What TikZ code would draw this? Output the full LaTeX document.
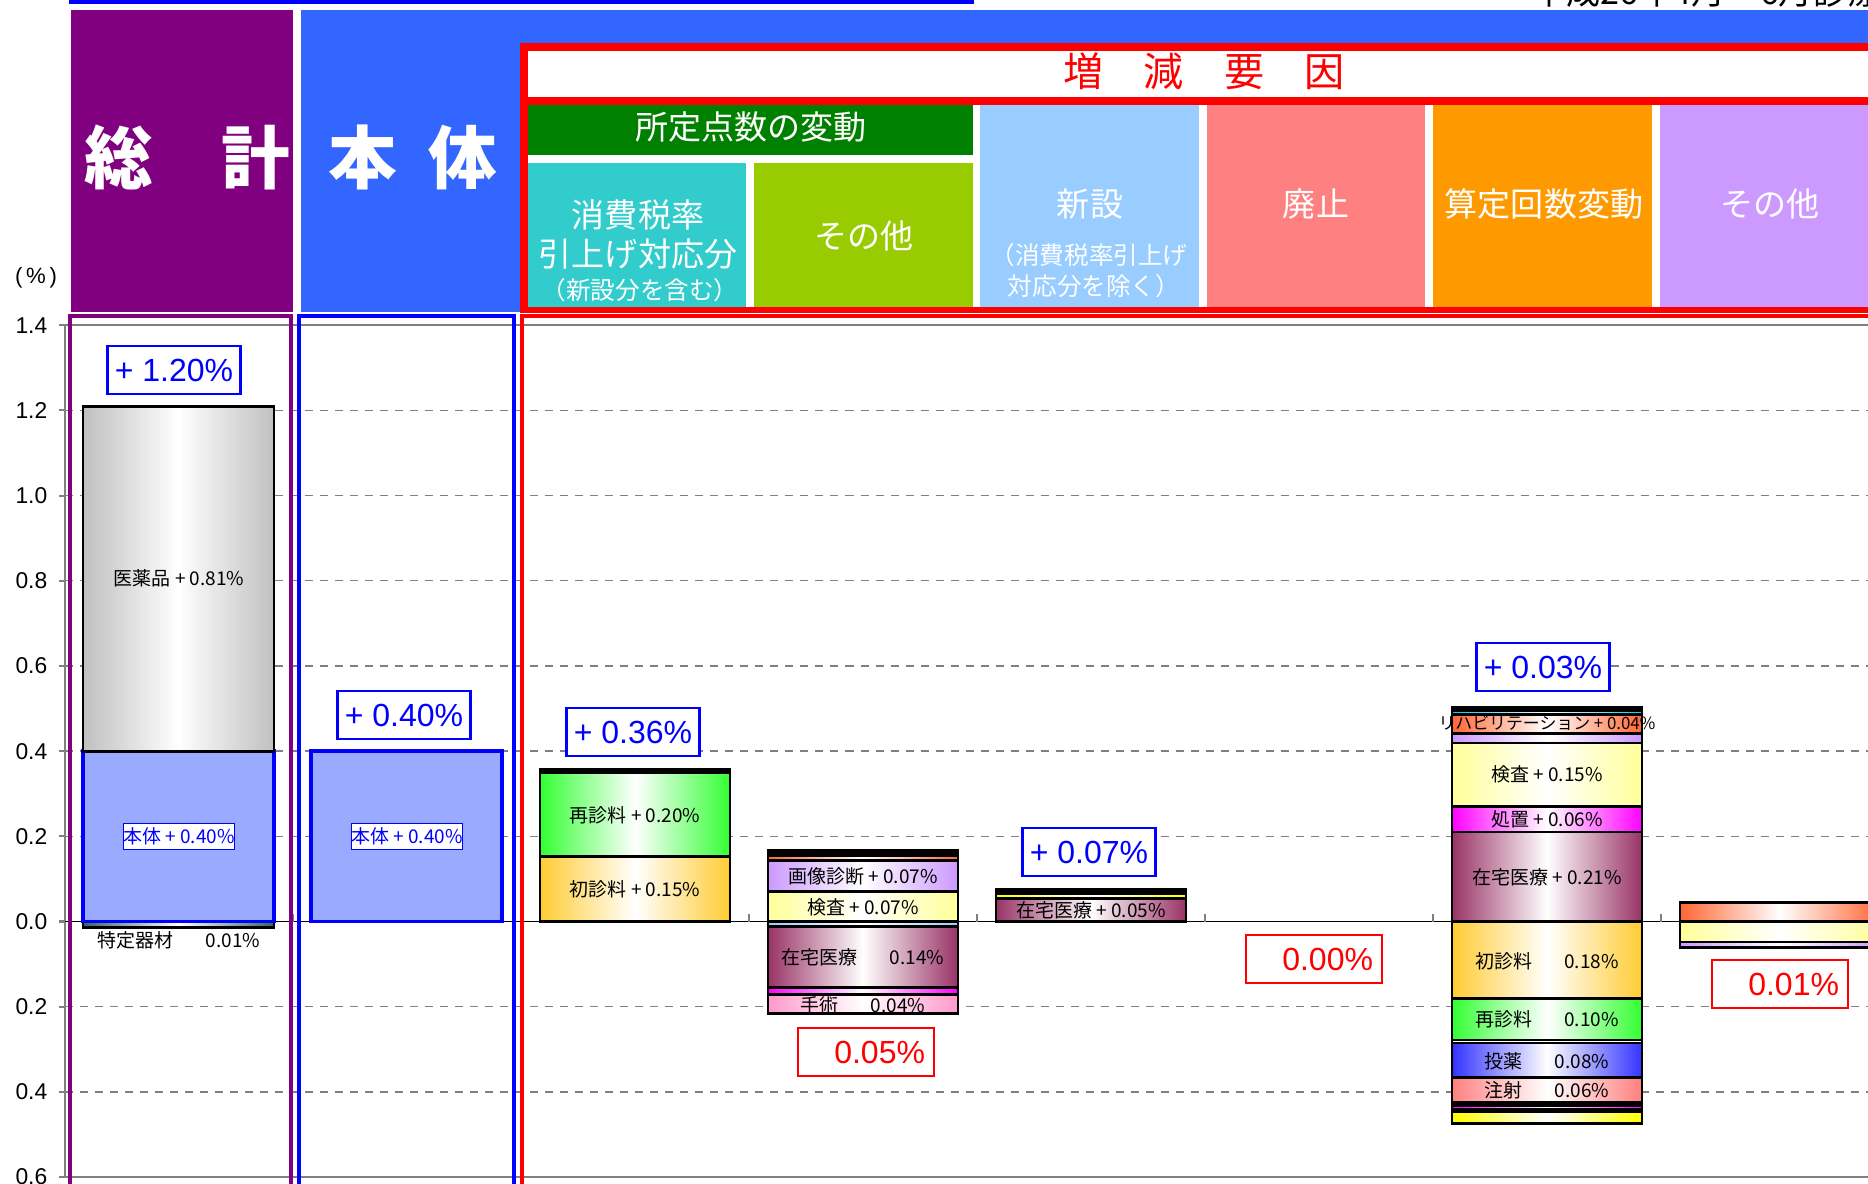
\documentclass[tikz,border=0pt]{standalone}
\usepackage{fontspec}
\setmainfont{Liberation Sans}
\newfontfamily\cjk{Noto Sans CJK JP}

% Changing colors
\definecolor{r0g0b255}{rgb}{0.000000,0.000000,1.000000}
\definecolor{r128g0b128}{rgb}{0.501961,0.000000,0.501961}
\definecolor{r51g102b255}{rgb}{0.200000,0.400000,1.000000}
\definecolor{r255g0b0}{rgb}{1.000000,0.000000,0.000000}
\definecolor{r0g128b0}{rgb}{0.000000,0.501961,0.000000}
\definecolor{r51g204b204}{rgb}{0.200000,0.800000,0.800000}
\definecolor{r153g204b0}{rgb}{0.600000,0.800000,0.000000}
\definecolor{r153g204b255}{rgb}{0.600000,0.800000,1.000000}
\definecolor{r255g128b128}{rgb}{1.000000,0.501961,0.501961}
\definecolor{r255g153b0}{rgb}{1.000000,0.600000,0.000000}
\definecolor{r204g153b255}{rgb}{0.800000,0.600000,1.000000}
\definecolor{r128g128b128}{rgb}{0.501961,0.501961,0.501961}
\definecolor{r153g170b255}{rgb}{0.600000,0.666667,1.000000}
\definecolor{r192g192b192}{rgb}{0.752941,0.752941,0.752941}
\definecolor{r51g102b102}{rgb}{0.200000,0.400000,0.400000}
\definecolor{r255g204b51}{rgb}{1.000000,0.800000,0.200000}
\definecolor{r51g255b51}{rgb}{0.200000,1.000000,0.200000}
\definecolor{r102g153b204}{rgb}{0.400000,0.600000,0.800000}
\definecolor{r255g255b153}{rgb}{1.000000,1.000000,0.600000}
\definecolor{r255g102b51}{rgb}{1.000000,0.400000,0.200000}
\definecolor{r255g255b0}{rgb}{1.000000,1.000000,0.000000}
\definecolor{r153g51b102}{rgb}{0.600000,0.200000,0.400000}
\definecolor{r255g0b255}{rgb}{1.000000,0.000000,1.000000}
\definecolor{r255g153b204}{rgb}{1.000000,0.600000,0.800000}
\definecolor{r51g51b255}{rgb}{0.200000,0.200000,1.000000}
\definecolor{r102g102b0}{rgb}{0.400000,0.400000,0.000000}
\definecolor{r0g204b255}{rgb}{0.000000,0.800000,1.000000}

\tikzset{
  seg/.style={draw=black, line width=0.8pt, left color=#1, right color=#1, middle color=white},
  hontaibar/.style={draw=r0g0b255, line width=1.1pt, fill=r153g170b255},
  gridline/.style={draw=r128g128b128, line width=0.4pt, dash pattern=on 0.08cm off 0.07cm},
  frameline/.style={draw=r128g128b128, line width=0.6pt},
  headtext/.style={text=white, font=\cjk\fontsize{9.4}{11}\selectfont, inner sep=0},
  headsmall/.style={text=white, font=\cjk\fontsize{7}{8}\selectfont, inner sep=0},
  barlabel/.style={font=\cjk\fontsize{5.4}{6}\selectfont, inner sep=0},
  hontailabel/.style={barlabel, draw=r0g0b255, line width=0.3pt, fill=white, text=r0g0b255, minimum width=1.07cm, minimum height=0.26cm},
  totbox/.style={draw=r0g0b255, line width=0.6pt, fill=white, text=r0g0b255, font=\fontsize{9.1}{10}\selectfont, minimum width=1.33cm, minimum height=0.48cm, inner sep=0},
  decbox/.style={draw=r255g0b0, line width=0.6pt, fill=white, text=r255g0b0, font=\fontsize{9.1}{10}\selectfont, text width=1.18cm, align=right, inner xsep=0.09cm, inner ysep=0, minimum height=0.48cm},
  axislabel/.style={anchor=east, font=\fontsize{6.5}{7}\selectfont, inner sep=0}
}

\begin{document}
\begin{tikzpicture}[x=0.01cm,y=-0.01cm]
\useasboundingbox (0,0) rectangle (1868,1184);
\clip (0,0) rectangle (1868,1184);

% Drawing top line and period
\fill[r0g0b255] (69,0) rectangle (974,3.5);
\node[anchor=base west, font=\cjk\fontsize{9.7}{10}\selectfont, inner sep=0] (period) at (1532,4) {平成26年4月～6月診療分};

% Filling header cells
\fill[r128g0b128] (71,10) rectangle (293,312);
\fill[r51g102b255] (301,10) rectangle (1868,312);
\fill[white] (521,43) rectangle (1868,313);
\fill[r255g0b0] (520,43) rectangle (1868,51);
\fill[r255g0b0] (520,97) rectangle (1868,105);
\fill[r255g0b0] (520,307) rectangle (1868,313);
\fill[r255g0b0] (520,43) rectangle (528,313);
\fill[r0g128b0] (528,105) rectangle (973,155);
\fill[r51g204b204] (528,163) rectangle (746,307);
\fill[r153g204b0] (754,163) rectangle (973,307);
\fill[r153g204b255] (980,105) rectangle (1199,307);
\fill[r255g128b128] (1207,105) rectangle (1425,307);
\fill[r255g153b0] (1433,105) rectangle (1652,307);
\fill[r204g153b255] (1660,105) rectangle (1868,307);

% Header texts
\node[text=white, font=\cjk\bfseries\fontsize{19.5}{20}\selectfont, inner sep=0] (sokei) at (187,157) {総　計};
\node[text=white, font=\cjk\bfseries\fontsize{19.5}{20}\selectfont, inner sep=0] (hontai) at (413,157) {本\hspace{0.45em}体};
\node[text=r255g0b0, font=\cjk\fontsize{11.4}{12}\selectfont, inner sep=0] (zogen) at (1204,71) {増　減　要　因};
\node[headtext] (shotei) at (751,127) {所定点数の変動};
\node[headtext] (shohizeiA) at (638,215) {消費税率};
\node[headtext] (shohizeiB) at (638,254) {引上げ対応分};
\node[headsmall] (shohizeiC) at (640,290) {（新設分を含む）};
\node[headtext] (sonotaA) at (864,236) {その他};
\node[headtext] (shinsetsuA) at (1090,204) {新設};
\node[headsmall] (shinsetsuB) at (1089,255) {（消費税率引上げ};
\node[headsmall] (shinsetsuC) at (1094,286) {対応分を除く）};
\node[headtext] (haishi) at (1316,204) {廃止};
\node[headtext] (santei) at (1544,204) {算定回数変動};
\node[headtext] (sonotaB) at (1770,204) {その他};
\node[font=\fontsize{6.3}{7}\selectfont, inner sep=0] (pct) at (36,278) {(\,\%\,)};

\begin{scope}[yshift=-9.21cm, y=4.257cm]
% Drawing grid and axis
\foreach \v in {1.2,1.0,0.8,0.6,0.4,0.2,-0.2,-0.4}
  \draw[gridline] (65,\v) -- (1868,\v);
\draw[frameline] (1868,1.4) -- (65,1.4) -- (65,-0.6) -- (1868,-0.6);
\foreach \v/\t [count=\i] in {1.4/1.4,1.2/1.2,1.0/1.0,0.8/0.8,0.6/0.6,0.4/0.4,0.2/0.2,0.0/0.0,-0.2/0.2,-0.4/0.4,-0.6/0.6}
  {\draw[frameline] (59,\v) -- (65,\v);
   \node[axislabel] (ylab\i) at (48,\v) {\t};}
\draw[black, line width=0.4pt] (65,0) -- (1868,0);
\foreach \x in {293,521,749,977,1205,1433,1661}
  \draw[r128g128b128, line width=0.4pt] (\x,0) -- (\x,0.018);

% Filling bar 総計
\draw[seg=r51g102b102] (83,-0.014) rectangle (274,0);
\draw[hontaibar] (83,0) rectangle (274,0.40);
\draw[seg=r192g192b192] (83,0.40) rectangle (274,1.21);
\node[barlabel] (iyakuhin) at (179,0.805) {医薬品 + 0.81\%};
\node[hontailabel] (hontaiA) at (179,0.20) {本体 + 0.40\%};
\node[barlabel] (tokutei) at (179,-0.045) {特定器材\hspace{1.7em}0.01\%};

% Filling bar 本体
\draw[hontaibar] (311,0) rectangle (502,0.40);
\node[hontailabel] (hontaiB) at (407,0.20) {本体 + 0.40\%};

% Filling bar 消費税率引上げ対応分
\draw[seg=r255g204b51] (540,0) rectangle (730,0.152);
\draw[seg=r51g255b51] (540,0.152) rectangle (730,0.349);
\draw[seg=r102g153b204] (540,0.349) rectangle (730,0.357);
\node[barlabel] (saishinA) at (635,0.25) {再診料 + 0.20\%};
\node[barlabel] (shoshinA) at (635,0.075) {初診料 + 0.15\%};

% Filling bar その他 (所定点数)
\draw[seg=r255g255b153] (768,0) rectangle (958,0.071);
\draw[seg=r204g153b255] (768,0.071) rectangle (958,0.144);
\draw[seg=r255g102b51] (768,0.144) rectangle (958,0.156);
\draw[seg=r255g255b0] (768,0.159) rectangle (958,0.167);
\draw[seg=r153g204b255] (768,-0.011) rectangle (958,0);
\draw[seg=r153g51b102] (768,-0.155) rectangle (958,-0.011);
\draw[seg=r255g0b255] (768,-0.172) rectangle (958,-0.155);
\draw[seg=r255g153b204] (768,-0.215) rectangle (958,-0.172);
\node[barlabel] (gazo) at (863,0.107) {画像診断 + 0.07\%};
\node[barlabel] (kensaA) at (863,0.033) {検査 + 0.07\%};
\node[barlabel] (zaitakuA) at (863,-0.084) {在宅医療\hspace{1.7em}0.14\%};
\node[barlabel] (shujutsu) at (863,-0.197) {手術\hspace{1.7em}0.04\%};

% Filling bar 新設
\draw[seg=r153g51b102] (996,0) rectangle (1186,0.055);
\draw[seg=r255g255b0] (996,0.055) rectangle (1186,0.066);
\draw[draw=black, line width=0.8pt, fill=black] (996,0.066) rectangle (1186,0.075);
\node[barlabel] (zaitakuB) at (1091,0.026) {在宅医療 + 0.05\%};

% Filling bar 算定回数変動
\draw[seg=r153g51b102] (1452,0) rectangle (1642,0.210);
\draw[seg=r255g0b255] (1452,0.210) rectangle (1642,0.270);
\draw[seg=r255g255b153] (1452,0.270) rectangle (1642,0.419);
\draw[seg=r204g153b255] (1452,0.419) rectangle (1642,0.442);
\draw[seg=r255g102b51] (1452,0.442) rectangle (1642,0.487);
\draw[seg=r0g204b255] (1452,0.487) rectangle (1642,0.495);
\draw[draw=black, line width=0.8pt, fill=black] (1452,0.495) rectangle (1642,0.503);
\draw[seg=r255g204b51] (1452,-0.180) rectangle (1642,0);
\draw[seg=r51g255b51] (1452,-0.278) rectangle (1642,-0.180);
\draw[seg=white] (1452,-0.285) rectangle (1642,-0.278);
\draw[seg=r51g51b255] (1452,-0.366) rectangle (1642,-0.285);
\draw[seg=r255g128b128] (1452,-0.425) rectangle (1642,-0.366);
\draw[seg=r102g102b0] (1452,-0.432) rectangle (1642,-0.425);
\draw[seg=r255g0b255] (1452,-0.441) rectangle (1642,-0.432);
\draw[seg=r255g255b0] (1452,-0.475) rectangle (1642,-0.445);
\node[barlabel, font=\cjk\fontsize{4.8}{5}\selectfont] (riha) at (1547,0.465) {リハビリテーション + 0.04\%};
\node[barlabel] (kensaB) at (1547,0.345) {検査 + 0.15\%};
\node[barlabel] (shochi) at (1547,0.240) {処置 + 0.06\%};
\node[barlabel] (zaitakuC) at (1547,0.104) {在宅医療 + 0.21\%};
\node[barlabel] (shoshinB) at (1547,-0.093) {初診料\hspace{1.7em}0.18\%};
\node[barlabel] (saishinB) at (1547,-0.230) {再診料\hspace{1.7em}0.10\%};
\node[barlabel] (toyaku) at (1547,-0.329) {投薬\hspace{1.7em}0.08\%};
\node[barlabel] (chusha) at (1547,-0.397) {注射\hspace{1.7em}0.06\%};

% Filling bar その他
\draw[seg=r255g102b51] (1680,0) rectangle (1880,0.045);
\draw[seg=r255g255b153] (1680,-0.048) rectangle (1880,0);
\draw[seg=r204g153b255] (1680,-0.060) rectangle (1880,-0.048);
\end{scope}

% Drawing frames of columns
\draw[r128g0b128, line width=1.1pt] (70,1200) -- (70,316) -- (291,316) -- (291,1200);
\draw[r0g0b255, line width=1.1pt] (299,1200) -- (299,316) -- (514,316) -- (514,1200);
\draw[r255g0b0, line width=1.1pt] (522,1200) -- (522,316) -- (1880,316);

% Marking totals
\node[totbox] (totA) at (174,370) {+ 1.20\%};
\node[totbox] (totB) at (404,715) {+ 0.40\%};
\node[totbox] (totC) at (633,732) {+ 0.36\%};
\node[decbox] (totD) at (866,1052) {0.05\%};
\node[totbox] (totE) at (1089,852) {+ 0.07\%};
\node[decbox] (totF) at (1314,959) {0.00\%};
\node[totbox] (totG) at (1543,667) {+ 0.03\%};
\node[decbox] (totH) at (1780,984) {0.01\%};
\end{tikzpicture}
\end{document}
